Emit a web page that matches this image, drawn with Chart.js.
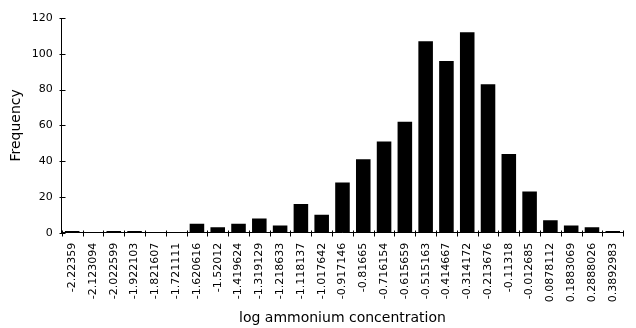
<!DOCTYPE html>
<html>
<head>
<meta charset="utf-8">
<script src="https://cdn.jsdelivr.net/npm/chart.js@4/dist/chart.umd.min.js"></script>
<style>
html,body{margin:0;padding:0;background:#fff;}
canvas{display:block;}
</style>
</head>
<body>
<canvas id="c" width="636" height="328"></canvas>
<script>
const categories = ["-2.22359","-2.123094","-2.022599","-1.922103","-1.821607","-1.721111","-1.620616","-1.52012","-1.419624","-1.319129","-1.218633","-1.118137","-1.017642","-0.917146","-0.81665","-0.716154","-0.615659","-0.515163","-0.414667","-0.314172","-0.213676","-0.11318","-0.012685","0.0878112","0.1883069","0.2888026","0.3892983"];
const frequency = [1,0,1,1,0,0,5,3,5,8,4,16,10,28,41,51,62,107,96,112,83,44,23,7,4,3,1];
const yTicks = [0,20,40,60,80,100,120];
const xTitle = "log ammonium concentration";
const yTitle = "Frequency";

const tickMarks = {
  id: 'tickMarks',
  afterDraw(chart) {
    const ctx = chart.ctx;
    const xs = chart.scales.x, ys = chart.scales.y;
    ctx.save();
    ctx.strokeStyle = '#000';
    ctx.lineWidth = 1;
    ctx.beginPath();
    const n = categories.length;
    const w = (xs.getPixelForValue(n - 1) - xs.getPixelForValue(0)) / (n - 1);
    const yb = Math.round(ys.getPixelForValue(0)) + 0.5;
    for (let i = 0; i <= n; i++) {
      const x = Math.round(xs.getPixelForValue(0) - w / 2 + i * w) + 0.5;
      ctx.moveTo(x, yb - 3);
      ctx.lineTo(x, yb + 3);
    }
    const xl = Math.round(xs.left) + 0.5;
    yTicks.forEach(v => {
      const y = Math.round(ys.getPixelForValue(v)) + 0.5;
      ctx.moveTo(xl - 3, y);
      ctx.lineTo(xl + 3, y);
    });
    ctx.stroke();
    ctx.restore();
  }
};

new Chart(document.getElementById('c'), {
  type: 'bar',
  data: {
    labels: categories,
    datasets: [{
      data: frequency,
      backgroundColor: '#000',
      borderWidth: 0,
      barPercentage: 0.7,
      categoryPercentage: 1.0
    }]
  },
  options: {
    responsive: false,
    animation: false,
    devicePixelRatio: 1,
    layout: { padding: { top: 18, right: 2, bottom: 0, left: 2 } },
    plugins: { legend: { display: false }, tooltip: { enabled: false } },
    scales: {
      x: {
        offset: true,
        grid: { display: false, drawTicks: false, tickLength: 0 },
        border: { display: true, color: '#000', width: 1 },
        ticks: {
          color: '#000',
          font: { family: 'DejaVu Sans', size: 11 },
          maxRotation: 90, minRotation: 90,
          autoSkip: false,
          padding: 10
        },
        title: {
          display: true, text: xTitle, color: '#000',
          font: { family: 'DejaVu Sans', size: 14 },
          padding: { top: -2, bottom: 1 }
        }
      },
      y: {
        min: 0, max: 120,
        grid: { display: false, drawTicks: false, tickLength: 0 },
        border: { display: true, color: '#000', width: 1 },
        ticks: {
          color: '#000',
          font: { family: 'DejaVu Sans', size: 11 },
          stepSize: 20,
          padding: 9
        },
        title: {
          display: true, text: yTitle, color: '#000',
          font: { family: 'DejaVu Sans', size: 14 },
          padding: { top: 6, bottom: -2 }
        }
      }
    }
  },
  plugins: [tickMarks]
});
</script>
</body>
</html>
